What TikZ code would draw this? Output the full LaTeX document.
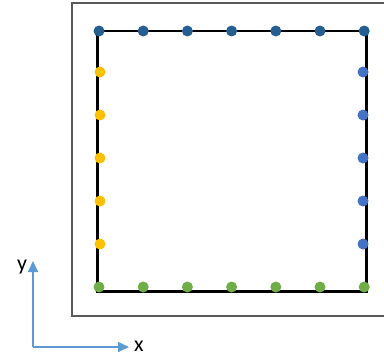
\documentclass[tikz,border=0pt]{standalone}
\usepackage{fontspec}
\setmainfont{Carlito}
\usetikzlibrary{arrows.meta}
\definecolor{frameGray}{RGB}{89,89,89}
\definecolor{topBlue}{RGB}{37,94,145}
\definecolor{leftYellow}{RGB}{255,192,0}
\definecolor{rightBlue}{RGB}{68,114,196}
\definecolor{bottomGreen}{RGB}{112,173,71}
\definecolor{axisBlue}{RGB}{91,155,213}

\begin{document}
\begin{tikzpicture}[
    x=0.02cm, y=-0.02cm,
    >={Triangle[length=0.22cm, width=0.2cm]},
    every node/.style={font=\fontsize{12.5}{14}\selectfont},
    dot/.style={circle, inner sep=0pt, minimum size=0.22cm},
    axis/.style={axisBlue, line width=0.9pt, ->},
]
\useasboundingbox (0,0) rectangle (384,358);

% ============================================================
% Outer frame and boundary square
% ============================================================
\draw[frameGray, line width=0.9pt] (390,3) -- (72,3) -- (72,316) -- (390,316);
\draw[black, line width=1.7pt] (97.5,31) rectangle (366.5,291);

% ============================================================
% Boundary points
% ============================================================
% left side
\foreach \i in {0,...,4} {
    \node[dot, fill=leftYellow] (left\i) at (100, 72+43*\i) {};
}
% right side
\foreach \i in {0,...,4} {
    \node[dot, fill=rightBlue] (right\i) at (363, 72+43*\i) {};
}
% bottom side
\foreach \i in {0,...,6} {
    \node[dot, fill=bottomGreen] (bottom\i) at (99+44.2*\i, 287) {};
}
% top side
\foreach \i in {0,...,6} {
    \node[dot, fill=topBlue] (top\i) at (99+44.2*\i, 31) {};
}

% ============================================================
% Axes
% ============================================================
\coordinate (origin) at (33,347);
\coordinate (yend) at (33,261);
\coordinate (xend) at (129,347);
\draw[axis] (origin) -- (yend);
\draw[axis] (origin) -- (xend);
\node (ylabel) at (22,267) {y};
\node (xlabel) at (139,346) {x};

\end{tikzpicture}
\end{document}
